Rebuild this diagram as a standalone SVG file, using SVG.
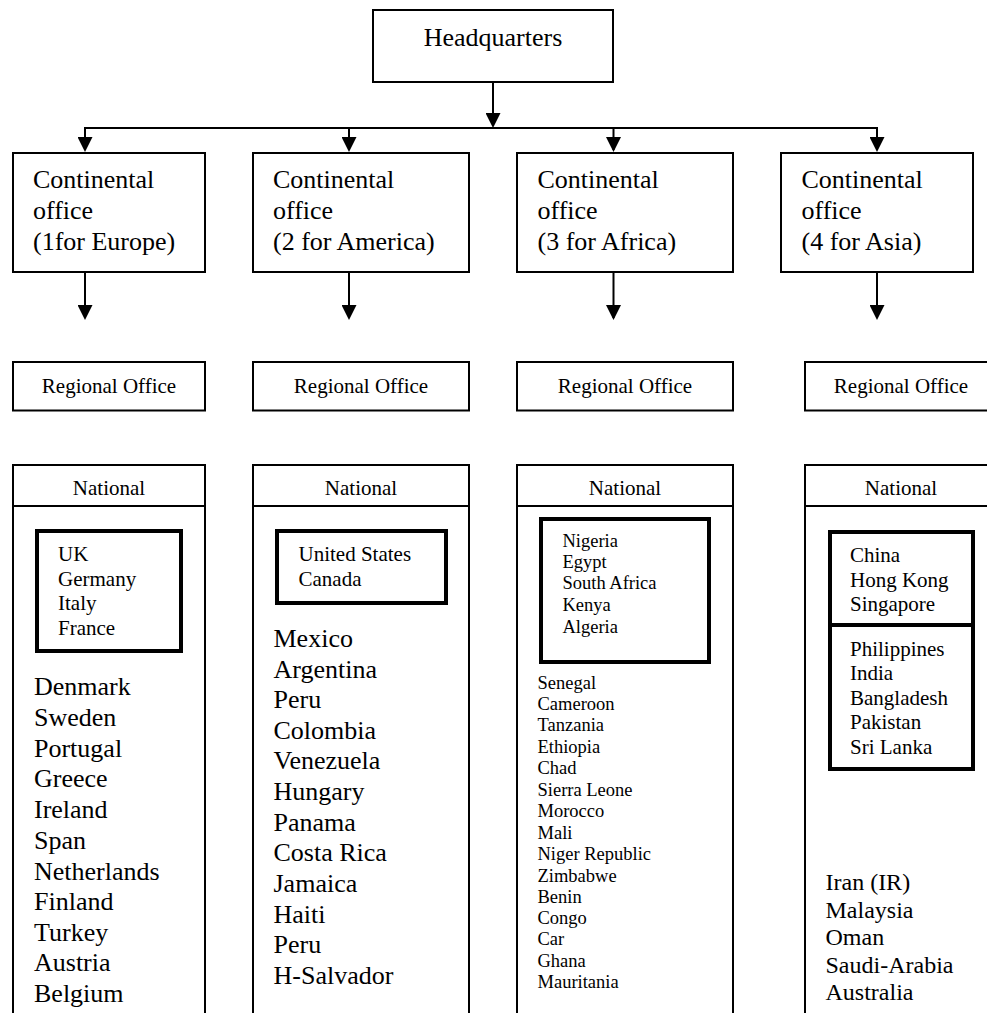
<svg xmlns="http://www.w3.org/2000/svg" width="987" height="1013" viewBox="0 0 987 1013">
<style>
text{font-family:"Liberation Serif","Times New Roman",serif;fill:#000}
.box{fill:#fff;stroke:#000;stroke-width:2}
.thick{fill:#fff;stroke:#000;stroke-width:4}
.ln{stroke:#000;stroke-width:2;fill:none}
.c{font-size:26px}
.r{font-size:21px;text-anchor:middle}
.l26{font-size:26px}
.l21{font-size:21px}
.l18{font-size:18.5px}
.l24{font-size:24px}
</style>
<defs>
<marker id="ah" markerWidth="15" markerHeight="15" refX="13" refY="7.5" orient="auto" markerUnits="userSpaceOnUse">
<path d="M0,0 L15,7.5 L0,15 z" fill="#000"/>
</marker>
</defs>
<rect width="987" height="1013" fill="#fff"/>

<g id="connectors">
<line class="ln" x1="493" y1="82" x2="493" y2="126" marker-end="url(#ah)"/>
<line class="ln" x1="84" y1="128" x2="878" y2="128"/>
<line class="ln" x1="85" y1="128" x2="85" y2="150" marker-end="url(#ah)"/>
<line class="ln" x1="349" y1="128" x2="349" y2="150" marker-end="url(#ah)"/>
<line class="ln" x1="613.5" y1="128" x2="613.5" y2="150" marker-end="url(#ah)"/>
<line class="ln" x1="877" y1="128" x2="877" y2="150" marker-end="url(#ah)"/>
<line class="ln" x1="85" y1="272" x2="85" y2="318" marker-end="url(#ah)"/>
<line class="ln" x1="349" y1="272" x2="349" y2="318" marker-end="url(#ah)"/>
<line class="ln" x1="613.5" y1="272" x2="613.5" y2="318" marker-end="url(#ah)"/>
<line class="ln" x1="877" y1="272" x2="877" y2="318" marker-end="url(#ah)"/>
</g>

<g id="hq">
<rect class="box" x="373" y="10" width="240" height="72"/>
<text x="493" y="46" font-size="26" text-anchor="middle">Headquarters</text>
</g>

<g id="cont1">
<rect class="box" x="13" y="153" width="192" height="119"/>
<text class="c" x="33" y="188">Continental</text>
<text class="c" x="33" y="219">office</text>
<text class="c" x="33" y="250">(1for Europe)</text>
</g>
<g id="cont2">
<rect class="box" x="253" y="153" width="216" height="119"/>
<text class="c" x="273" y="188">Continental</text>
<text class="c" x="273" y="219">office</text>
<text class="c" x="273" y="250">(2 for America)</text>
</g>
<g id="cont3">
<rect class="box" x="517" y="153" width="216" height="119"/>
<text class="c" x="537.5" y="188">Continental</text>
<text class="c" x="537.5" y="219">office</text>
<text class="c" x="537.5" y="250">(3 for Africa)</text>
</g>
<g id="cont4">
<rect class="box" x="781" y="153" width="192" height="119"/>
<text class="c" x="801.5" y="188">Continental</text>
<text class="c" x="801.5" y="219">office</text>
<text class="c" x="801.5" y="250">(4 for Asia)</text>
</g>

<g id="reg1">
<rect class="box" x="13" y="362" width="192" height="48.5"/>
<text class="r" x="109" y="392.5">Regional Office</text>
</g>
<g id="reg2">
<rect class="box" x="253" y="362" width="216" height="48.5"/>
<text class="r" x="361" y="392.5">Regional Office</text>
</g>
<g id="reg3">
<rect class="box" x="517" y="362" width="216" height="48.5"/>
<text class="r" x="625" y="392.5">Regional Office</text>
</g>
<g id="reg4">
<rect class="box" x="805" y="362" width="200" height="48.5"/>
<text class="r" x="901" y="392.5">Regional Office</text>
</g>

<g id="nat1">
<rect class="box" x="13" y="465" width="192" height="560"/>
<line class="ln" x1="13" y1="506" x2="205" y2="506"/>
<text class="r" x="109" y="495">National</text>
<rect class="thick" x="37" y="531" width="144" height="120"/>
<text class="l21" x="58" y="561">UK</text>
<text class="l21" x="58" y="586">Germany</text>
<text class="l21" x="58" y="610">Italy</text>
<text class="l21" x="58" y="634.5">France</text>
<text class="l26" x="34" y="695">Denmark</text>
<text class="l26" x="34" y="726">Sweden</text>
<text class="l26" x="34" y="756.5">Portugal</text>
<text class="l26" x="34" y="787">Greece</text>
<text class="l26" x="34" y="818">Ireland</text>
<text class="l26" x="34" y="849">Span</text>
<text class="l26" x="34" y="879.5">Netherlands</text>
<text class="l26" x="34" y="910">Finland</text>
<text class="l26" x="34" y="940.5">Turkey</text>
<text class="l26" x="34" y="971">Austria</text>
<text class="l26" x="34" y="1001.5">Belgium</text>
</g>

<g id="nat2">
<rect class="box" x="253" y="465" width="216" height="560"/>
<line class="ln" x1="253" y1="506" x2="469" y2="506"/>
<text class="r" x="361" y="495">National</text>
<rect class="thick" x="277" y="531" width="169" height="72"/>
<text class="l21" x="298.5" y="561">United States</text>
<text class="l21" x="298.5" y="586">Canada</text>
<text class="l26" x="273.5" y="646.5">Mexico</text>
<text class="l26" x="273.5" y="677.5">Argentina</text>
<text class="l26" x="273.5" y="707.5">Peru</text>
<text class="l26" x="273.5" y="738.5">Colombia</text>
<text class="l26" x="273.5" y="769">Venezuela</text>
<text class="l26" x="273.5" y="800">Hungary</text>
<text class="l26" x="273.5" y="830.5">Panama</text>
<text class="l26" x="273.5" y="861">Costa Rica</text>
<text class="l26" x="273.5" y="891.5">Jamaica</text>
<text class="l26" x="273.5" y="922.5">Haiti</text>
<text class="l26" x="273.5" y="953">Peru</text>
<text class="l26" x="273.5" y="984">H-Salvador</text>
</g>

<g id="nat3">
<rect class="box" x="517" y="465" width="216" height="560"/>
<line class="ln" x1="517" y1="506" x2="733" y2="506"/>
<text class="r" x="625" y="495">National</text>
<rect class="thick" x="541" y="519" width="168" height="143"/>
<text class="l18" x="562.5" y="546.5">Nigeria</text>
<text class="l18" x="562.5" y="567.5">Egypt</text>
<text class="l18" x="562.5" y="589">South Africa</text>
<text class="l18" x="562.5" y="610.5">Kenya</text>
<text class="l18" x="562.5" y="632.5">Algeria</text>
<text class="l18" x="537.5" y="688.5">Senegal</text>
<text class="l18" x="537.5" y="709.5">Cameroon</text>
<text class="l18" x="537.5" y="731">Tanzania</text>
<text class="l18" x="537.5" y="752.5">Ethiopia</text>
<text class="l18" x="537.5" y="774">Chad</text>
<text class="l18" x="537.5" y="795.5">Sierra Leone</text>
<text class="l18" x="537.5" y="817">Morocco</text>
<text class="l18" x="537.5" y="838.5">Mali</text>
<text class="l18" x="537.5" y="859.5">Niger Republic</text>
<text class="l18" x="537.5" y="881.5">Zimbabwe</text>
<text class="l18" x="537.5" y="902.5">Benin</text>
<text class="l18" x="537.5" y="924">Congo</text>
<text class="l18" x="537.5" y="945">Car</text>
<text class="l18" x="537.5" y="966.5">Ghana</text>
<text class="l18" x="537.5" y="988">Mauritania</text>
</g>

<g id="nat4">
<rect class="box" x="805" y="465" width="200" height="560"/>
<line class="ln" x1="805" y1="506" x2="987" y2="506"/>
<text class="r" x="901" y="495">National</text>
<rect class="thick" x="830" y="532" width="143" height="93"/>
<text class="l21" x="850" y="561.5">China</text>
<text class="l21" x="850" y="587">Hong Kong</text>
<text class="l21" x="850" y="610.5">Singapore</text>
<rect class="thick" x="830" y="625" width="143" height="144"/>
<text class="l21" x="850" y="656">Philippines</text>
<text class="l21" x="850" y="680">India</text>
<text class="l21" x="850" y="705">Bangladesh</text>
<text class="l21" x="850" y="729">Pakistan</text>
<text class="l21" x="850" y="753.5">Sri Lanka</text>
<text class="l24" x="825.5" y="889.5">Iran (IR)</text>
<text class="l24" x="825.5" y="917.5">Malaysia</text>
<text class="l24" x="825.5" y="945">Oman</text>
<text class="l24" x="825.5" y="972.5">Saudi-Arabia</text>
<text class="l24" x="825.5" y="1000">Australia</text>
</g>
</svg>
